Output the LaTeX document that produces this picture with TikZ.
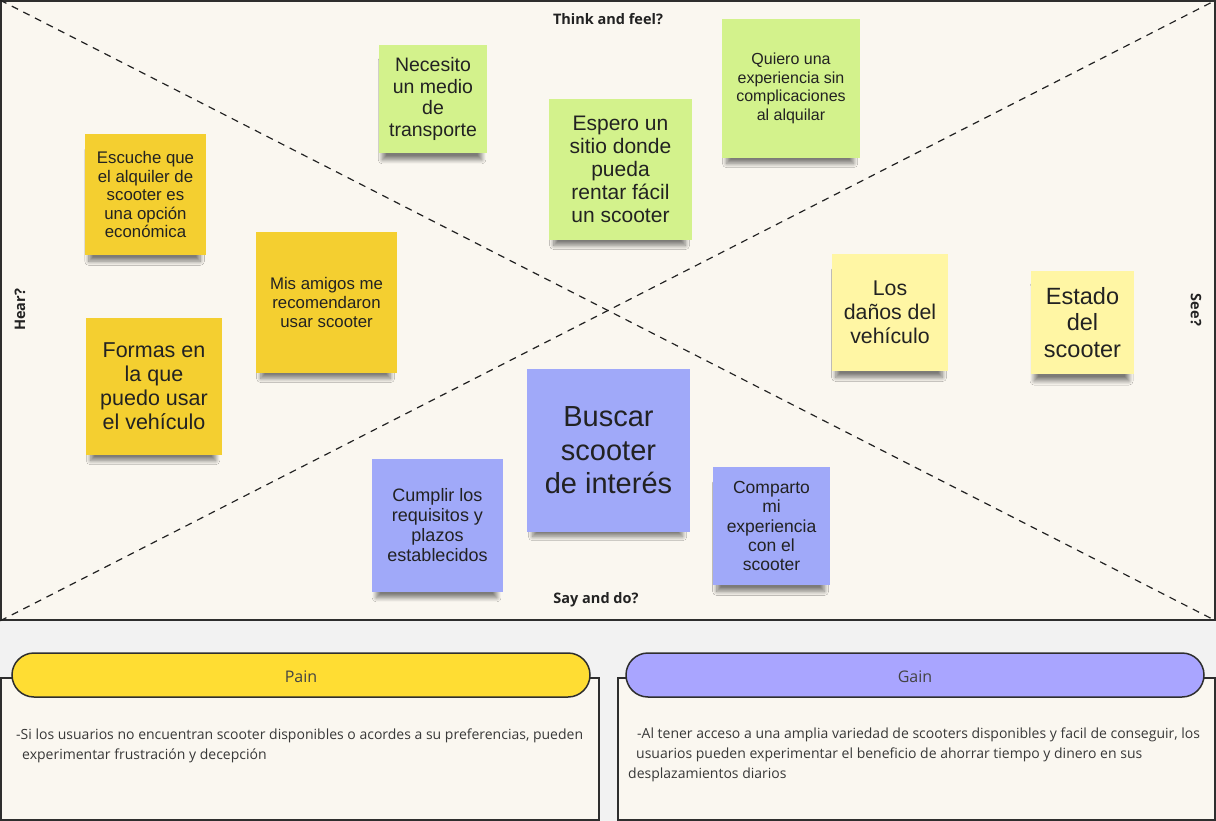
\documentclass[tikz,border=0pt]{standalone}
\usepackage{fontspec}
\setmainfont{Open Sans}
\newfontfamily\notefont{Liberation Sans}
\usetikzlibrary{shapes.misc,shadows.blur}

\definecolor{canvas}{HTML}{FAF7F0}
\definecolor{outside}{HTML}{F2F2F2}
\definecolor{edge}{HTML}{2E2E2E}
\definecolor{ink}{HTML}{222222}
\definecolor{thinkgreen}{HTML}{D3F28C}
\definecolor{hearyellow}{HTML}{F4CF30}
\definecolor{seeyellow}{HTML}{FFF6A4}
\definecolor{sayblue}{HTML}{A0A9F9}
\definecolor{painyellow}{HTML}{FFDD33}
\definecolor{gainblue}{HTML}{A9A5FF}

\newcommand{\notesz}[2]{\notefont\fontsize{#1}{#2}\selectfont}

\tikzset{
  note/.style={rectangle, align=center, inner sep=0pt, text=ink,
    blur shadow={shadow scale=0.92, shadow xshift=-1pt, shadow yshift=-12pt,
      shadow blur radius=4.5pt, shadow blur steps=12, shadow opacity=50}},
  think/.style={note, fill=thinkgreen},
  hear/.style={note, fill=hearyellow},
  see/.style={note, fill=seeyellow},
  say/.style={note, fill=sayblue},
  area/.style={font=\bfseries\fontsize{14.5}{17}\selectfont, text=ink, inner sep=0pt},
  diag/.style={draw=ink, line width=1.2pt, dash pattern=on 7pt off 6pt},
  box/.style={rectangle, draw=edge, line width=1.2pt, fill=canvas, inner sep=0pt},
  bar/.style={rounded rectangle, draw=edge, line width=1.5pt, inner sep=0pt,
    minimum width=578pt, minimum height=44pt, text=ink!85,
    text height=15.6pt, text depth=0pt, font=\fontsize{16}{19}\selectfont},
  bodytext/.style={anchor=north west, align=left, inner sep=0pt, text=ink!90,
    font=\fontsize{14}{20}\selectfont}
}

\begin{document}
\begin{tikzpicture}[x=1pt, y=-1pt]
  \useasboundingbox (0,0) rectangle (1216,821);
  \fill[outside] (0,0) rectangle (1216,821);

  % empathy map
  \node[box, line width=1.6pt, minimum width=1214pt, minimum height=619pt] (map) at (608,310.5) {};
  \draw[diag] (map.north west) -- (map.south east);
  \draw[diag] (map.south west) -- (map.north east);

  \node[area] (think) at (608,19) {Think and feel?};
  \node[area] (say) at (596,600) {Say and do?};
  \node[area, rotate=90] (hear) at (20,310) {Hear?};
  \node[area, rotate=-90] (see) at (1196,310) {See?};

  % think and feel
  \node[think, minimum width=108pt, minimum height=108pt, font=\notesz{19.5}{21.5}] (necesito) at (433,99) {Necesito\\un medio\\de\\transporte};
  \node[think, minimum width=143pt, minimum height=141pt, font=\notesz{21}{23}] (espero) at (620.5,169.5) {Espero un\\sitio donde\\pueda\\rentar fácil\\un scooter};
  \node[think, minimum width=138pt, minimum height=139pt, font=\notesz{16}{18.7}] (quiero) at (791,88.5) {Quiero una\\experiencia sin\\complicaciones\\al alquilar};

  % hear
  \node[hear, minimum width=121pt, minimum height=121pt, font=\notesz{16.8}{18.5}] (escuche) at (145.5,194.5) {Escuche que\\el alquiler de\\scooter es\\una opción\\económica};
  \node[hear, minimum width=141pt, minimum height=141pt, font=\notesz{16.8}{19}] (amigos) at (326.5,302.5) {Mis amigos me\\recomendaron\\usar scooter};
  \node[hear, minimum width=136pt, minimum height=137pt, font=\notesz{21.5}{24}] (formas) at (154,386.5) {Formas en\\la que\\puedo usar\\el vehículo};

  % see
  \node[see, minimum width=116pt, minimum height=117pt, font=\notesz{21.3}{24}] (danos) at (890,312.5) {Los\\daños del\\vehículo};
  \node[see, minimum width=103pt, minimum height=103pt, font=\notesz{23.5}{26.5}] (estado) at (1082.5,322.5) {Estado\\del\\scooter};

  % say and do
  \node[say, minimum width=163pt, minimum height=163pt, font=\notesz{29}{33.5}] (buscar) at (608.5,450.5) {Buscar\\scooter\\de interés};
  \node[say, minimum width=131pt, minimum height=133pt, font=\notesz{18}{20}] (cumplir) at (437.5,525.5) {Cumplir los\\requisitos y\\plazos\\establecidos};
  \node[say, minimum width=117pt, minimum height=118pt, font=\notesz{17.5}{19.3}] (comparto) at (771.5,526) {Comparto\\mi\\experiencia\\con el\\scooter};

  % pain and gain
  \node[box, minimum width=598pt, minimum height=142pt] (painbox) at (300,749) {};
  \node[bar, fill=painyellow] (painbar) at (301,675) {Pain};
  \node[bodytext] (paintext) at (16,729) {-Si los usuarios no encuentran scooter disponibles o acordes a su preferencias, pueden\\\hspace*{6pt}experimentar frustración y decepción};

  \node[box, minimum width=597pt, minimum height=142pt] (gainbox) at (916.5,749) {};
  \node[bar, fill=gainblue] (gainbar) at (915,675) {Gain};
  \node[bodytext] (gaintext) at (628,728) {\hspace*{9pt}-Al tener acceso a una amplia variedad de scooters disponibles y facil de conseguir, los\\\hspace*{8pt}usuarios pueden experimentar el beneficio de ahorrar tiempo y dinero en sus\\desplazamientos diarios};
\end{tikzpicture}
\end{document}
